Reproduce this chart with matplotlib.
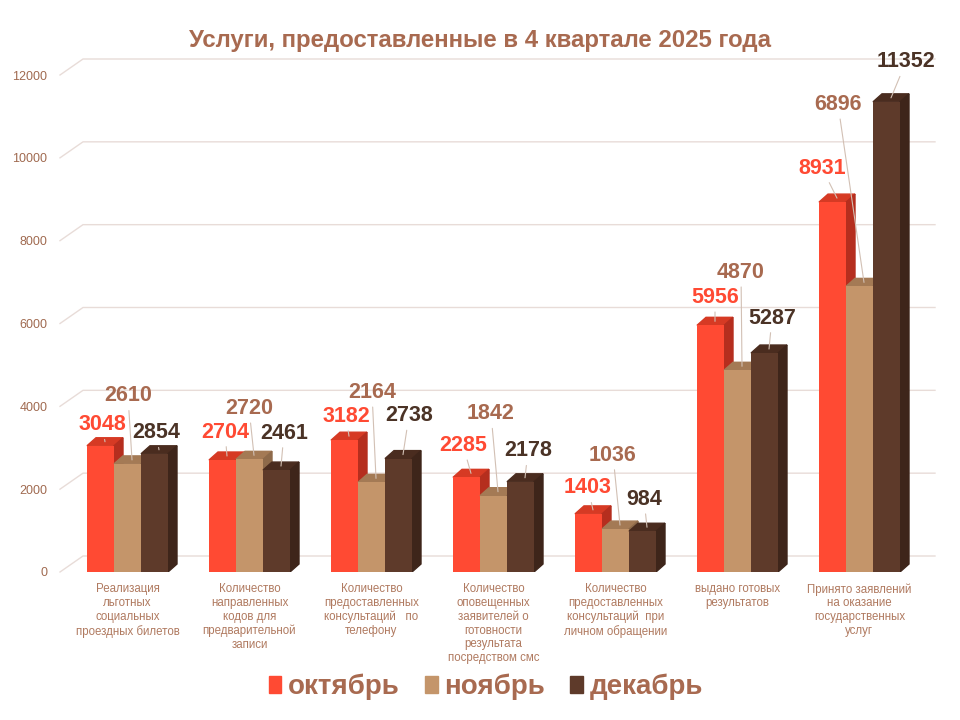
import numpy as np
import matplotlib
matplotlib.use("Agg")
import matplotlib.pyplot as plt
from matplotlib.patches import Polygon, Patch

plt.rcParams['font.family'] = ['Liberation Sans', 'DejaVu Sans']

categories = [
    "Реализация\nльготных\nсоциальных\nпроездных билетов",
    "Количество\nнаправленных\nкодов для\nпредварительной\nзаписи",
    "Количество\nпредоставленных\nконсультаций   по\nтелефону",
    "Количество\nоповещенных\nзаявителей о\nготовности\nрезультата\nпосредством смс",
    "Количество\nпредоставленных\nконсультаций  при\nличном обращении",
    "выдано готовых\nрезультатов",
    "Принято заявлений\nна оказание\nгосударственных\nуслуг",
]
months = ["октябрь", "ноябрь", "декабрь"]
oct_vals = [3048, 2704, 3182, 2285, 1403, 5956, 8931]
nov_vals = [2610, 2720, 2164, 1842, 1036, 4870, 6896]
dec_vals = [2854, 2461, 2738, 2178, 984, 5287, 11352]
yticks = [0, 2000, 4000, 6000, 8000, 10000, 12000]

# label offsets in pixels from the top of each bar (layout only)
lab_off = [
    [(-3, 17), (-2, 24), (-3, 20), (-8, 28), (-5, 22), (0, 24), (-15, 30)],
    [(-4, 64), (-5, 47), (-4, 86), (-7, 78), (-7, 70), (-1, 94), (-26, 178)],
    [(-3, 17), (3, 33), (6, 39), (3, 27), (-3, 28), (3, 31), (15, 36)],
]

front = ["#FF4A33", "#C4956A", "#5E3A2A"]
top_c = ["#D63A24", "#A47A55", "#4A2C1F"]
side_c = ["#B52E1E", "#8E6A4A", "#3E251A"]
lab_c = ["#FF4A33", "#A86A50", "#4B3326"]
txt_c = "#A86A50"
grid_c = "#E8DCD8"

fig = plt.figure(figsize=(9.6, 7.2), dpi=100)
ax = fig.add_axes([60 / 960, (720 - 572) / 720, (912 - 60) / 960, 497 / 720])
ax.set_xlim((60 - 127.5) / 122, (912 - 127.5) / 122)
ax.set_ylim(0, 12000)
for s in ax.spines.values():
    s.set_visible(False)

upx = 12000 / 497  # value units per pixel
w = 27 / 122
ddx, ddy = 9 / 122, 8 * upx
wdx, wdy = 23 / 122, 16 * upx
x0 = ax.get_xlim()[0]
xback = (935 - 127.5) / 122

for v in yticks:
    ax.plot([x0, x0 + wdx, xback], [v, v + wdy, v + wdy], color=grid_c,
            lw=1, clip_on=False, zorder=0)

x = np.arange(len(categories))
series = [oct_vals, nov_vals, dec_vals]
for i in range(len(categories)):
    for j, vals in enumerate(series):
        v = vals[i]
        xl = x[i] + (j - 1.5) * w
        xr = xl + w
        z = 2 + i * 3 + j
        ax.bar(xl, v, width=w, align='edge', color=front[j], zorder=z + 0.3)
        ax.add_patch(Polygon([(xl, v), (xr, v), (xr + ddx, v + ddy), (xl + ddx, v + ddy)],
                             closed=True, color=top_c[j], zorder=z))
        ax.add_patch(Polygon([(xr, 0), (xr + ddx, ddy), (xr + ddx, v + ddy), (xr, v)],
                             closed=True, color=side_c[j], zorder=z))
        ox, oy = lab_off[j][i]
        ax.annotate(str(v), xy=(xl + w / 2 + ddx / 2, v + ddy / 2),
                    xytext=(ox, oy), textcoords='offset pixels',
                    ha='center', va='center', fontsize=15.5, fontweight='bold',
                    color=lab_c[j], zorder=50,
                    arrowprops=dict(arrowstyle='-', color="#D2C0B4", lw=0.8,
                                    shrinkA=1, shrinkB=0))

ax.set_xticks(x)
ax.set_xticklabels(categories, fontsize=8.3, color="#B07A60", linespacing=1.2, va='top')
ax.tick_params(axis='x', length=0, pad=8)
ax.set_yticks(yticks)
ax.set_yticklabels([str(t) for t in yticks], fontsize=9, color="#A06A50")
ax.tick_params(axis='y', length=0, pad=9)

fig.text(480 / 960, 1 - 40 / 720, "Услуги, предоставленные в 4 квартале 2025 года",
         ha='center', va='center', fontsize=17.3, fontweight='bold', color=txt_c)

handles = [Patch(color=c) for c in front]
leg = fig.legend(handles, months, loc='center', bbox_to_anchor=(486 / 960, 1 - 687 / 720),
                 ncol=3, frameon=False, handlelength=0.45, handleheight=0.55,
                 handletextpad=0.25, columnspacing=0.9,
                 prop={'size': 20, 'weight': 'bold'}, labelcolor=txt_c)

fig.savefig("out.png", dpi=100)
